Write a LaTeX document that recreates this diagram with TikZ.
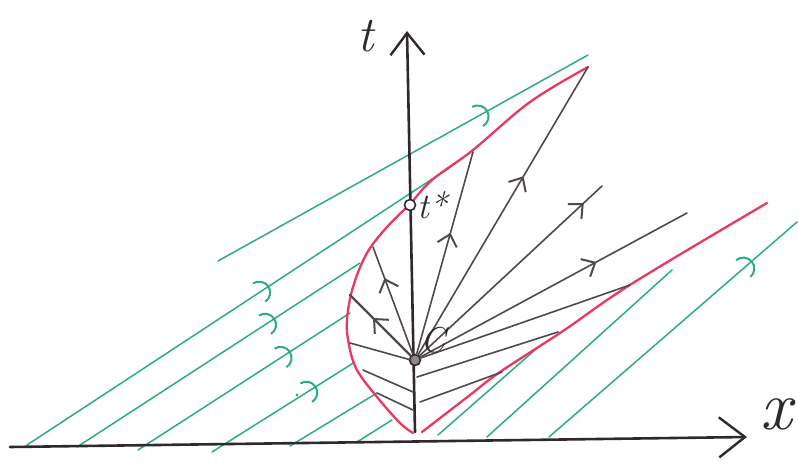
\documentclass[tikz,border=0pt]{standalone}
\usepackage{tikz}
\usetikzlibrary{arrows.meta,decorations.markings}
\definecolor{chargreen}{RGB}{44,172,128}
\definecolor{frontred}{RGB}{234,56,98}
\definecolor{ink}{RGB}{48,40,46}

\begin{document}
\begin{tikzpicture}[x=1pt,y=-1pt,
  axis/.style={draw=ink,line width=2.6pt,line cap=round},
  ray/.style={draw=ink!85,line width=1.6pt,line cap=round},
  char/.style={draw=chargreen,line width=1.5pt,line cap=round},
  front/.style={draw=frontred,line width=2.3pt,line cap=round,line join=round},
  midarrow/.style={postaction={decorate},decoration={markings,
    mark=at position #1 with {\arrow{Arc Barb[length=12pt,width=24pt,line width=2pt]}}}},
  midbarb/.style={postaction={decorate},decoration={markings,
    mark=at position #1 with {\arrow{Straight Barb[length=11pt,width=20pt,line width=2pt]}}}},
  dot/.style={circle,draw=ink,line width=1.6pt,minimum size=11pt,inner sep=0pt},
  lab/.style={inner sep=1pt,text=ink}]
\useasboundingbox (0,0) rectangle (798,465);
% characteristics (green)
\draw[char,midarrow=0.73] (218,261) -- (588,55);
\draw[char,midarrow=0.57] (27,445) -- (452,166);
\draw[char,midarrow=0.70] (77,447) -- (360,263);
\draw[char,midarrow=0.72] (138,450) -- (350,313);
\draw[char,midarrow=0.73] (212,452) -- (355,362);
\fill[chargreen] (297,395) circle (1.6pt);
\draw[char] (290,446) -- (377,393);
\draw[char] (357,442) -- (392,420);
\draw[char] (438,435) -- (535,350);
\draw[char] (487,437) -- (672,270);
\draw[char,midarrow=0.82] (549,437) -- (797,222);
% the two fronts (red)
\draw[front] plot[smooth,tension=0.6] coordinates {(588,67) (530,102) (473,150) (432,180)
  (410,204) (387,227) (367,253) (353,287) (347,320) (349,345) (357,370) (377,397) (400,423) (413,433)};
\draw[front] plot[smooth,tension=0.6] coordinates {(422,432) (470,395) (500,372) (563,331) (633,283) (767,203)};
% axes
\draw[axis,-{Straight Barb[length=22pt,width=34pt,line width=2.4pt]}] (415,432) -- (407,31);
\draw[axis,-{Straight Barb[length=26pt,width=40pt,line width=2.4pt]}] (10,447) -- (747,437);
\node[lab,font=\fontsize{50}{50}\selectfont\itshape] (tlab) at (366,36) {t};
\node[lab,font=\fontsize{70}{70}\selectfont\itshape] (xlab) at (776,414) {x};
% fan from C
\node[dot,fill=ink!55] (C) at (415,360) {};
\coordinate (r1) at (373,247);
\coordinate (r2) at (350,295);
\coordinate (R1) at (473,152);
\coordinate (R2) at (588,67);
\coordinate (R3) at (602,186);
\coordinate (R4) at (687,213);
\coordinate (R5) at (630,285);
\draw[ray,midbarb=0.71] (C) -- (r1);
\draw[ray,midbarb=0.62,line width=2.2pt] (C) -- (r2);
\draw[ray,midbarb=0.60] (C) -- (R1);
\draw[ray,midbarb=0.62] (C) -- (R2);
\draw[ray,midbarb=0.90] (C) -- (R3);
\draw[ray,midbarb=0.66] (C) -- (R4);
\draw[ray] (C) -- (R5);
% straight lines below C
\draw[ray] (350,343) -- (411,360);
\draw[ray] (363,370) -- (413,392);
\draw[ray] (377,393) -- (413,410);
\draw[ray] (417,377) -- (558,332);
\draw[ray] (420,402) -- (502,372);
\node[lab,font=\fontsize{36}{36}\selectfont\itshape] (Clab) at (433,340) {C};
% the point t*
\node[dot,fill=white] (tstar) at (410,205) {};
\node[lab,font=\fontsize{36}{36}\selectfont\itshape,anchor=west] (tslab) at (tstar.east) {t*};
\end{tikzpicture}
\end{document}
